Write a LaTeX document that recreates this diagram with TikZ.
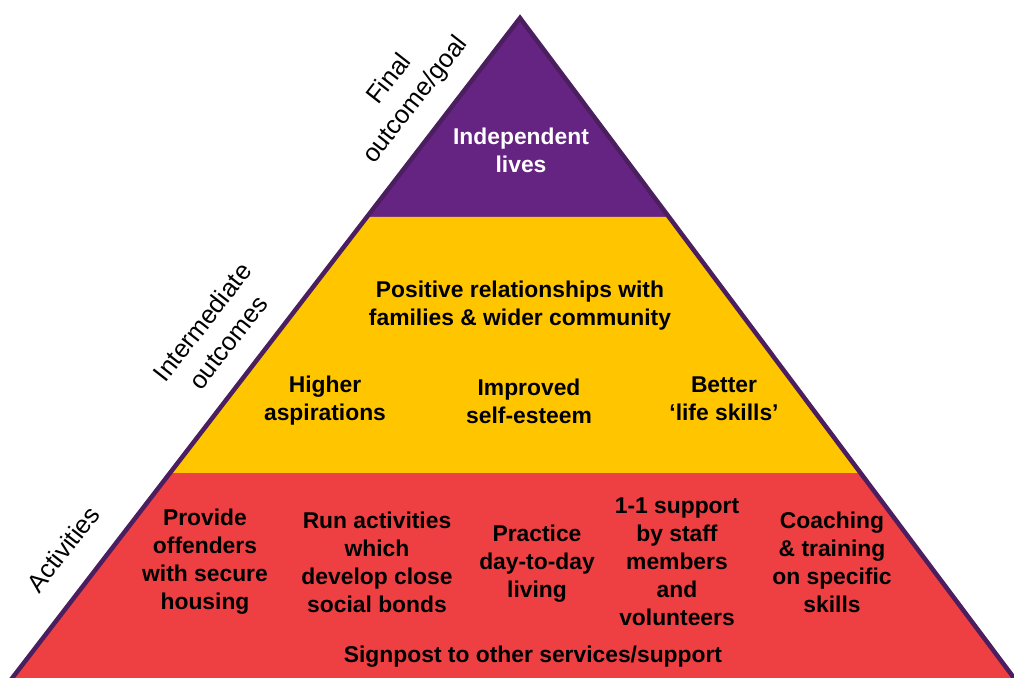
\documentclass[tikz,border=0pt]{standalone}
\usepackage{fontspec}
\setmainfont{Liberation Sans}
\usetikzlibrary{calc}

\definecolor{goalpurple}{RGB}{102,36,130}
\definecolor{midyellow}{RGB}{255,198,0}
\definecolor{actred}{RGB}{238,64,66}
\definecolor{edgepurple}{RGB}{75,30,95}

\begin{document}
\begin{tikzpicture}
    [x=0.02cm,y=-0.02cm,
    level/.style={font=\bfseries\fontsize{13}{15.9}\selectfont,
      align=center,inner sep=0pt},
    goaltext/.style={level,text=white},
    sidelabel/.style={font=\fontsize{14.5}{18.7}\selectfont,
      align=center,rotate=52,inner sep=0pt}]

    \useasboundingbox (0,0) rectangle (1014,677);
    \clip (0,0) rectangle (1014,677);

    \coordinate (apex)       at (520,18);
    \coordinate (base left)  at (3,690);
    \coordinate (base right) at (1023,690);
    \coordinate (goal left)  at ($(apex)!0.2961!(base left)$);
    \coordinate (goal right) at ($(apex)!0.2961!(base right)$);
    \coordinate (mid left)   at ($(apex)!0.6771!(base left)$);
    \coordinate (mid right)  at ($(apex)!0.6771!(base right)$);

    % tiers
    \fill[goalpurple] (apex) -- (goal left) -- (goal right) -- cycle;
    \fill[midyellow] (goal left) -- (mid left) -- (mid right) -- (goal right) -- cycle;
    \fill[actred] (mid left) -- (base left) -- (base right) -- (mid right) -- cycle;
    \draw[edgepurple,line width=0.09cm] (base left) -- (apex) -- (base right);

    \node[goaltext] (independent)   at (521,150) {Independent\\lives};

    \node[level]    (relationships) at (520,306) {Positive relationships with\\families \& wider community};
    \node[level]    (aspirations)   at (325,401) {Higher\\aspirations};
    \node[level]    (self esteem)   at (529,401) {Improved\\self-esteem};
    \node[level]    (life skills)   at (724,399) {Better\\‘life skills’};

    \node[level]    (housing)       at (205,562) {Provide\\offenders\\with secure\\housing};
    \node[level]    (bonds)         at (377,562) {Run activities\\which\\develop close\\social bonds};
    \node[level]    (living)        at (537,564) {Practice\\day-to-day\\living};
    \node[level]    (support)       at (677,562) {1-1 support\\by staff\\members\\and\\volunteers};
    \node[level]    (coaching)      at (832,562) {Coaching\\\& training\\on specific\\skills};
    \node[level]    (signpost)      at (533,657) {Signpost to other services/support};

    \node[sidelabel] (final label)        at (403,90)  {Final\\outcome/goal};
    \node[sidelabel] (intermediate label) at (215,332) {Intermediate\\outcomes};
    \node[sidelabel] (activities label)   at (63,549)  {Activities};

  \end{tikzpicture}
\end{document}
